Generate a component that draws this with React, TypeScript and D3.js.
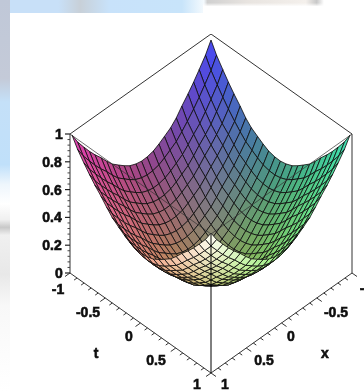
import React from 'react';
import * as d3 from 'd3';

// surface sample positions along x and t
const xValues = [-1, -0.92, -0.83, -0.75, -0.67, -0.58, -0.5, -0.42, -0.33, -0.25, -0.17, -0.08, 0, 0.08, 0.17, 0.25, 0.33, 0.42, 0.5, 0.58, 0.67, 0.75, 0.83, 0.92, 1];
const tValues = [-1, -0.92, -0.83, -0.75, -0.67, -0.58, -0.5, -0.42, -0.33, -0.25, -0.17, -0.08, 0, 0.08, 0.17, 0.25, 0.33, 0.42, 0.5, 0.58, 0.67, 0.75, 0.83, 0.92, 1];
// height contribution read along one edge of the bowl
const heightProfile = [1, 0.85, 0.72, 0.61, 0.51, 0.41, 0.31, 0.22, 0.15, 0.09, 0.04, 0.01, 0, 0.01, 0.04, 0.09, 0.15, 0.22, 0.31, 0.41, 0.51, 0.61, 0.72, 0.85, 1];

const zTicks = [0, 0.2, 0.4, 0.6, 0.8, 1];
const zTickLabels = ['0', '0.2', '0.4', '0.6', '0.8', '1'];
const zMinorTicks = [0.04, 0.08, 0.12, 0.16, 0.24, 0.28, 0.32, 0.36, 0.44, 0.48, 0.52, 0.56, 0.64, 0.68, 0.72, 0.76, 0.84, 0.88, 0.92, 0.96];
const axisTicks = [-1, -0.9, -0.8, -0.7, -0.6, -0.5, -0.4, -0.3, -0.2, -0.1, 0, 0.1, 0.2, 0.3, 0.4, 0.5, 0.6, 0.7, 0.8, 0.9, 1];
const planeTickLabels = [-1, -0.5, 0, 0.5, 1];

const width = 364;
const height = 392;
const font = '"Liberation Sans", Arial, sans-serif';

// projection of the box
const sx = d3.scaleLinear().domain([-2, 2]).range([70, 352]);
const groundY = d3.scaleLinear().domain([-2, 2]).range([173, 373]);
const zHeight = d3.scaleLinear().domain([0, 1]).range([0, 139]);
const project = (x: number, t: number, z: number): [number, number] => [sx(t - x), groundY(x + t) - zHeight(z)];

// the surface sits a little inside the box at the back corner
const surfaceX = d3.scaleLinear().domain([-2, 2]).range([72, 350]);
const surfaceGround = d3.scaleLinear().domain([-2, -1.5, 0, 2]).range([179, 209, 274, 372]);
const projectSurface = (x: number, t: number, z: number): [number, number] => [surfaceX(t - x), surfaceGround(x + t) - zHeight(z)];

const channel = d3.scaleLinear().domain([-1, 1]).range([0.28, 1]);
const blue = d3.scaleLinear().domain([0, 1]).range([0.38, 0.97]);

const heightAt = (i: number, j: number) => (heightProfile[i] + heightProfile[j]) / 2;
const line = d3.line();

// back to front, so the near rim covers the bowl behind it
const order = d3.cross(d3.range(xValues.length - 1), d3.range(tValues.length - 1)).sort((a, b) => a[0] + a[1] - (b[0] + b[1]));
const cells = order.map(([i, j]) => {
  const corners = [[i, j], [i + 1, j], [i + 1, j + 1], [i, j + 1]];
  const pts = corners.map(([a, b]) => projectSurface(xValues[a], tValues[b], heightAt(a, b)));
  const mx = (xValues[i] + xValues[i + 1]) / 2;
  const mt = (tValues[j] + tValues[j + 1]) / 2;
  const mz = (heightAt(i, j) + heightAt(i + 1, j + 1)) / 2;
  // the side corners are duller than the back and front ones
  const side = Math.abs(mx - mt) / 2;
  const dim = 1 - 0.12 * side;
  const fill = d3.rgb(channel(mx) * dim * 255, channel(mt) * dim * 255, (blue(mz) - 0.25 * side) * 255).formatHex();
  return { d: line(pts)! + 'Z', fill, key: `${i}-${j}` };
});

const Label = ({ x, y, children }: { x: number; y: number; children: React.ReactNode }) => (
  <text x={x} y={y} textAnchor="middle" fontFamily={font} fontWeight="bold" fontSize={14} fill="#111" stroke="#111" strokeWidth={0.6}>
    {children}
  </text>
);

export default function App() {
  const [bx, by] = project(-1, -1, 1);
  const [lx, ly] = project(1, -1, 1);
  const [rx, ry] = project(-1, 1, 1);
  const [fx, fy] = project(1, 1, 1);
  const [lbx, lby] = project(1, -1, 0);
  const [rbx, rby] = project(-1, 1, 0);
  const [fbx, fby] = project(1, 1, 0);
  return (
    <svg width={width} height={height} style={{ position: 'fixed', left: 0, top: 0 }}>
      <defs>
        <linearGradient id="leftBand" x1="0" y1="0" x2="0" y2="1">
          <stop offset="0" stopColor="#c0c8d8" />
          <stop offset="0.2" stopColor="#c4cad8" />
          <stop offset="0.26" stopColor="#c4e0f8" />
          <stop offset="0.42" stopColor="#c0e0fa" />
          <stop offset="0.47" stopColor="#eef6fc" />
          <stop offset="0.52" stopColor="#ffffff" />
          <stop offset="0.56" stopColor="#f0f0f0" />
          <stop offset="0.58" stopColor="#c8c8c8" />
          <stop offset="0.6" stopColor="#f0f0f0" />
          <stop offset="0.7" stopColor="#e8e8e8" />
          <stop offset="0.78" stopColor="#f8f8f8" />
          <stop offset="1" stopColor="#ffffff" />
        </linearGradient>
        <linearGradient id="topBand" x1="0" y1="0" x2="1" y2="0">
          <stop offset="0" stopColor="#c8e0f8" />
          <stop offset="0.16" stopColor="#c8e0f8" />
          <stop offset="0.22" stopColor="#c8d0d8" />
          <stop offset="0.3" stopColor="#c8e2fa" />
          <stop offset="0.5" stopColor="#c8e4fa" />
          <stop offset="0.56" stopColor="#f4fafe" />
          <stop offset="0.57" stopColor="#d0d0d0" />
          <stop offset="0.68" stopColor="#e8e4e0" />
          <stop offset="0.84" stopColor="#f4f0ec" />
          <stop offset="0.87" stopColor="#c8c8c8" />
          <stop offset="0.89" stopColor="#ffffff" />
          <stop offset="1" stopColor="#ffffff" />
        </linearGradient>
        <linearGradient id="topFade" x1="0" y1="0" x2="0" y2="1">
          <stop offset="0.22" stopColor="#fff" stopOpacity="0" />
          <stop offset="0.5" stopColor="#fff" stopOpacity="1" />
        </linearGradient>
        <filter id="soft" x="0" y="0" width="100%" height="100%">
          <feGaussianBlur stdDeviation="0.45" />
        </filter>
      </defs>
      <rect width={width} height={height} fill="#fff" />
      <rect width={width} height={13} fill="url(#topBand)" />
      <rect x={203} width={width - 203} height={13} fill="url(#topFade)" />
      <rect width={10} height={height} fill="url(#leftBand)" />
      <rect x={10} y={13} width={width - 10} height={height - 13} fill="#fff" />

      <g filter="url(#soft)">
        <path d={`M${lx},${ly}L${bx},${by}L${rx},${ry}`} stroke="#333" fill="none" />
        {cells.map((c) => (
          <path key={c.key} d={c.d} fill={c.fill} stroke="#0c0c0c" strokeWidth={0.9} strokeOpacity={0.9} strokeLinejoin="round" />
        ))}

        <g stroke="#333" strokeWidth={1} fill="none">
          <path d={`M${lx},${ly}L${fx},${fy}L${rx},${ry}`} strokeOpacity={0.7} />
          <path d={`M${lx},${ly}L${lbx},${lby}L${fbx},${fby}L${rbx},${rby}L${rx},${ry}`} />
          <path d={`M${fx},${fy}L${fbx},${fby}`} stroke="#000" />
        </g>

        {zTicks.map((z) => (
          <line key={z} x1={lbx - 5} x2={lbx} y1={lby - zHeight(z)} y2={lby - zHeight(z)} stroke="#222" strokeWidth={1.2} />
        ))}
        {zMinorTicks.map((z) => (
          <line key={z} x1={lbx - 2.5} x2={lbx} y1={lby - zHeight(z)} y2={lby - zHeight(z)} stroke="#444" />
        ))}
        {axisTicks.map((v) => {
          const [ax, ay] = project(1, v, 0);
          const [cx, cy] = project(v, 1, 0);
          const major = v * 2 === Math.round(v * 2);
          const len = major ? 5 : 3;
          return (
            <g key={v} stroke="#333">
              <line x1={ax} y1={ay} x2={ax - len} y2={ay + len * 0.7} />
              <line x1={cx} y1={cy} x2={cx + len} y2={cy + len * 0.7} />
            </g>
          );
        })}

        {zTicks.map((z, i) => (
          <Label key={z} x={z === 1 || z === 0 ? 59 : 52} y={lby - zHeight(z) + 5}>
            {zTickLabels[i]}
          </Label>
        ))}
        <Label x={58} y={294}>{planeTickLabels[0]}</Label>
        <Label x={88} y={317}>{planeTickLabels[1]}</Label>
        <Label x={129} y={341}>{planeTickLabels[2]}</Label>
        <Label x={156} y={365}>{planeTickLabels[3]}</Label>
        <Label x={197} y={389}>{planeTickLabels[4]}</Label>
        <Label x={96} y={358}>t</Label>
        <Label x={225} y={389}>{planeTickLabels[4]}</Label>
        <Label x={264} y={365}>{planeTickLabels[3]}</Label>
        <Label x={291} y={341}>{planeTickLabels[2]}</Label>
        <Label x={336} y={317}>{planeTickLabels[1]}</Label>
        <Label x={366} y={293}>{planeTickLabels[0]}</Label>
        <Label x={325} y={358}>x</Label>
      </g>
    </svg>
  );
}
